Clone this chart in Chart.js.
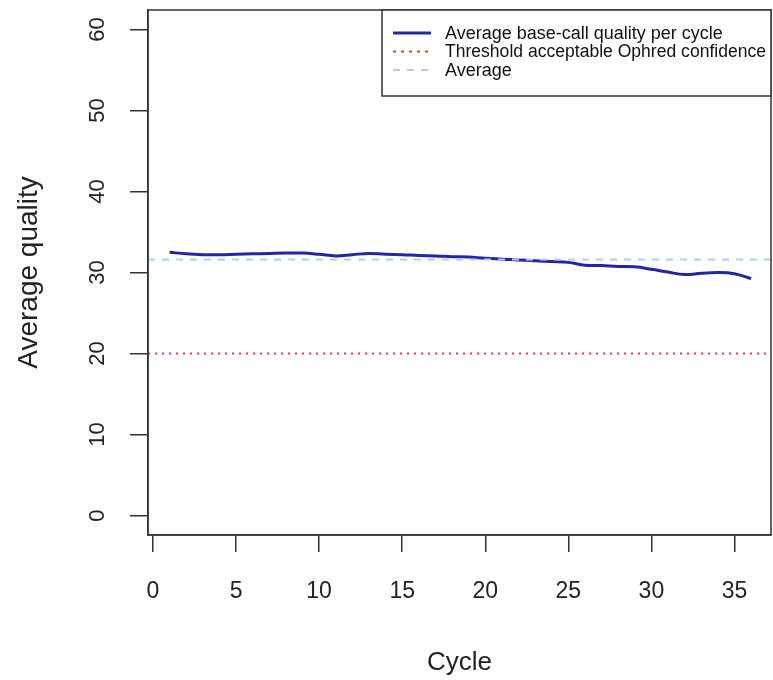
<!DOCTYPE html>
<html>
<head>
<meta charset="utf-8">
<script src="https://cdn.jsdelivr.net/npm/chart.js@4/dist/chart.umd.min.js"></script>
<style>
  html, body { margin: 0; padding: 0; background: #ffffff; }
  #wrap { width: 773px; height: 680px; position: relative; }
</style>
</head>
<body>
<div id="wrap"><canvas id="c" width="773" height="680"></canvas></div>
<script>
// ---- data ----
const cycles = [1,2,3,4,5,6,7,8,9,10,11,12,13,14,15,16,17,18,19,20,21,22,23,24,25,26,27,28,29,30,31,32,33,34,35,36];
const avgQuality = [32.5,32.3,32.2,32.2,32.25,32.3,32.35,32.4,32.4,32.25,32.05,32.2,32.35,32.25,32.2,32.1,32.05,31.95,31.9,31.75,31.65,31.55,31.45,31.35,31.25,30.9,30.85,30.75,30.7,30.4,30.05,29.75,29.9,30.0,29.85,29.25];
const thresholdValue = 20;
const overallAverage = 31.6;
const xTicks = [0,5,10,15,20,25,30,35];
const yTicks = [0,10,20,30,40,50,60];
const xMin = -0.3, xMax = 37.2;
const yMin = -2.4, yMax = 62.4;
const seriesLabels = ['Average base-call quality per cycle', 'Threshold acceptable Ophred confidence', 'Average'];

const FONT = "'Liberation Sans', Arial, Helvetica, sans-serif";
const BLUE = '#2424a8';
const RED = '#ff3030';
const LIGHTBLUE = '#a9d3e3';

const boxPlugin = {
  id: 'boxPlugin',
  afterDraw(chart) {
    const ctx = chart.ctx;
    const a = chart.chartArea;
    ctx.save();
    ctx.strokeStyle = '#333';
    ctx.lineWidth = 1.5;
    ctx.strokeRect(a.left, a.top, a.right - a.left, a.bottom - a.top);
    // legend box (top-right, inside plot)
    const lx = 382, ly = a.top, lw = a.right - lx, lh = 86;
    ctx.fillStyle = '#fff';
    ctx.fillRect(lx, ly, lw, lh);
    ctx.strokeRect(lx, ly, lw, lh);
    const rows = [
      {c: BLUE, w: 3, dash: []},
      {c: RED, w: 2, dash: [3, 5]},
      {c: LIGHTBLUE, w: 2, dash: [7, 7]}
    ];
    ctx.font = '18px ' + FONT;
    ctx.textBaseline = 'middle';
    ctx.textAlign = 'left';
    rows.forEach((r, i) => {
      const y = ly + 23 + i * 18.5;
      ctx.beginPath();
      ctx.setLineDash(r.dash);
      ctx.strokeStyle = r.c;
      ctx.lineWidth = r.w;
      ctx.moveTo(393, y);
      ctx.lineTo(431, y);
      ctx.stroke();
      ctx.setLineDash([]);
      ctx.fillStyle = '#111';
      ctx.fillText(seriesLabels[i], 445, y + 1, a.right - 450);
    });
    ctx.restore();
  }
};

new Chart(document.getElementById('c'), {
  type: 'line',
  data: {
    datasets: [
      {
        label: seriesLabels[2],
        data: [{x: xMin, y: overallAverage}, {x: xMax, y: overallAverage}],
        borderColor: LIGHTBLUE, borderWidth: 2, borderDash: [7, 7],
        pointRadius: 0, order: 0
      },
      {
        label: seriesLabels[1],
        data: [{x: xMin, y: thresholdValue}, {x: xMax, y: thresholdValue}],
        borderColor: RED, borderWidth: 2, borderDash: [2, 5],
        pointRadius: 0, order: 1
      },
      {
        label: seriesLabels[0],
        data: cycles.map((c, i) => ({x: c, y: avgQuality[i]})),
        borderColor: BLUE, borderWidth: 3, tension: 0.4,
        pointRadius: 0, order: 2
      }
    ]
  },
  options: {
    responsive: false,
    animation: false,
    devicePixelRatio: 1,
    layout: { padding: { top: 10, right: 2, left: 0, bottom: 0 } },
    plugins: { legend: { display: false }, tooltip: { enabled: false } },
    scales: {
      x: {
        type: 'linear', min: xMin, max: xMax,
        afterBuildTicks: s => { s.ticks = xTicks.map(v => ({value: v})); },
        afterFit: s => { s.height = 145; s.paddingLeft = 0; s.paddingRight = 0; },
        grid: { display: true, drawOnChartArea: false, drawTicks: true, tickLength: 17, color: '#333', lineWidth: 1.5 },
        border: { display: true, color: '#333', width: 1.5 },
        ticks: { font: { size: 23, family: FONT }, color: '#222', padding: 26, maxRotation: 0, autoSkip: false },
        title: { display: true, text: 'Cycle', font: { size: 26, family: FONT }, color: '#222', padding: { top: 0, bottom: 2 } }
      },
      y: {
        type: 'linear', min: yMin, max: yMax,
        afterBuildTicks: s => { s.ticks = yTicks.map(v => ({value: v})); },
        afterFit: s => { s.width = 148; s.paddingTop = 0; s.paddingBottom = 0; },
        grid: { display: true, drawOnChartArea: false, drawTicks: true, tickLength: 18, color: '#333', lineWidth: 1.5 },
        border: { display: true, color: '#333', width: 1.5 },
        ticks: { font: { size: 22, family: FONT }, color: '#222', padding: 20, minRotation: 90, maxRotation: 90, crossAlign: 'center', autoSkip: false },
        title: { display: true, text: 'Average quality', font: { size: 28, family: FONT }, color: '#222', padding: { top: 12, bottom: 0 } }
      }
    }
  },
  plugins: [boxPlugin]
});
</script>
</body>
</html>
